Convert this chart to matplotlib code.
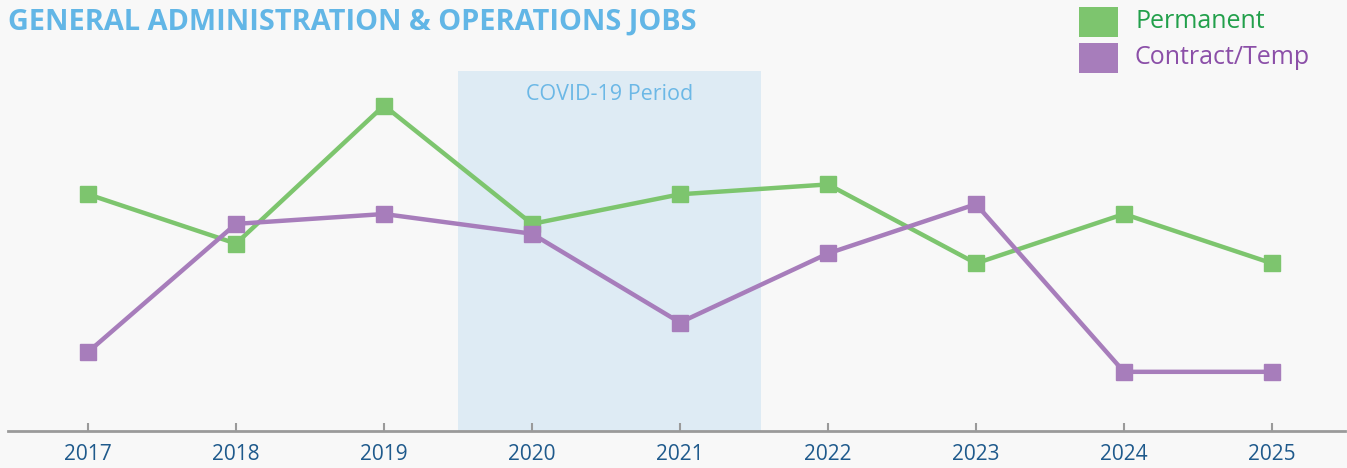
import matplotlib.pyplot as plt
from matplotlib.patches import Rectangle

plt.rcParams["font.family"] = ["Open Sans", "DejaVu Sans"]

years = [2017, 2018, 2019, 2020, 2021, 2022, 2023, 2024, 2025]
permanent = [24, 19, 33, 21, 24, 25, 17, 22, 17]
contract = [8, 21, 22, 20, 11, 18, 23, 6, 6]
covid_start, covid_end = 2019.5, 2021.55

BG = "#f8f8f8"
GREEN = "#7dc56e"
PURPLE = "#a77dbb"
TITLE = "#62b6e6"
TICK = "#1f5a8c"
SHADE = "#deebf4"
AXIS = "#9a9a9a"

W, H = 1347, 468
fig = plt.figure(figsize=(W / 100, H / 100), dpi=100, facecolor=BG)
ax = fig.add_axes([8 / W, 37 / H, 1337 / W, 360 / H], facecolor=BG)

ax.axvspan(covid_start, covid_end, color=SHADE, zorder=0, lw=0)
ax.text((covid_start + covid_end) / 2, 34.1, "COVID-19 Period", ha="center", va="center",
        color="#6cb8e6", fontsize=15.5)

ax.plot(years, permanent, color=GREEN, lw=3.2, marker="s", markersize=11.5, zorder=3)
ax.plot(years, contract, color=PURPLE, lw=3.2, marker="s", markersize=11.5, zorder=3)

ax.set_xlim(2017 - 80 / 148, 2025 + 73 / 148)
ax.set_ylim(0, 36.5)
ax.set_xticks(years)
ax.set_xticklabels([str(y) for y in years])
ax.set_yticks([])
for s in ["top", "right", "left"]:
    ax.spines[s].set_visible(False)
ax.spines["bottom"].set_color(AXIS)
ax.spines["bottom"].set_linewidth(2)
ax.tick_params(axis="x", direction="in", length=6, width=1.5, color=AXIS,
               labelcolor=TICK, labelsize=15, pad=9)

fig.text(8 / W, 1 - 22 / H, "GENERAL ADMINISTRATION & OPERATIONS JOBS",
         color=TITLE, fontsize=20.8, fontweight="bold", va="center", ha="left")

# legend drawn by hand: wide colour boxes with coloured labels
legend_items = [("Permanent", GREEN, "#22a04b", 7), ("Contract/Temp", PURPLE, "#8b4fa8", 43)]
for label, box, txt, top in legend_items:
    fig.patches.append(Rectangle((1079 / W, 1 - (top + 30) / H), 39 / W, 30 / H,
                                 transform=fig.transFigure, color=box, lw=0))
    fig.text(1135 / W, 1 - (top + 15) / H, label, color=txt, fontsize=18,
             va="center", ha="left")

fig.savefig("out.png", dpi=100, facecolor=BG)
